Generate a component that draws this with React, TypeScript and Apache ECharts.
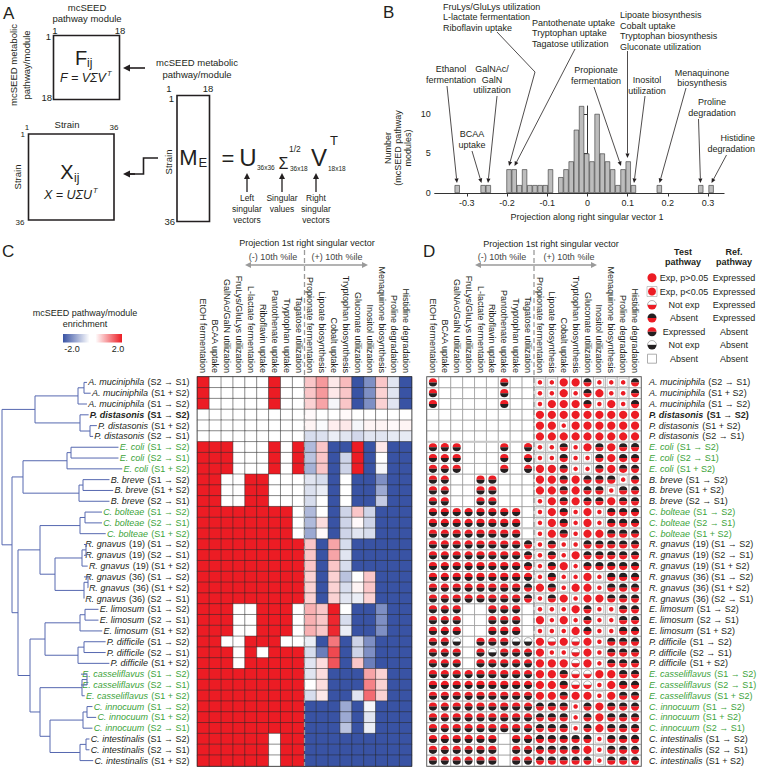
import React, { useEffect, useRef } from "react";
import * as echarts from "echarts";

const FONT = '"Liberation Sans", Arial, Helvetica, sans-serif';
const RED = "#ec1c24";
const BLACK = "#231f20";
const BLUE = "#3953a4";
const GREEN = "#3ca33a";
const TXT = "#231f20";
const GREY = "#9a9a9a";

// ---------- Panel B: histogram ----------
const histBinCenters = [
  -0.324, -0.2595, -0.2466, -0.1951, -0.1822, -0.1693, -0.1564, -0.1435, -0.1306, -0.1177, -0.1048, -0.0919,
  -0.0662, -0.0533, -0.0404, -0.0275, -0.0146, -0.0017, 0.0112, 0.0241, 0.037, 0.0499, 0.0628, 0.0757, 0.0886,
  0.1015, 0.1144, 0.1788, 0.2819, 0.3077,
];
const histCounts = [1, 1, 1, 3, 3, 1, 3, 1, 1, 1, 1, 3, 2, 3, 4, 8, 11, 5, 4, 10, 5, 4, 3, 1, 3, 4, 1, 1, 1, 1];
const histXTicks = [-0.3, -0.2, -0.1, 0, 0.1, 0.2, 0.3];
const histYTicks = [0, 5, 10];

// ---------- Panels C / D ----------
const modules = [
  "EtOH fermentation", "BCAA uptake", "GalNAc/GalN utilization", "FruLys/GluLys utilization",
  "L-lactate fermentation", "Riboflavin uptake", "Pantothenate uptake", "Tryptophan uptake",
  "Tagatose utilization", "Propionate fermentation", "Lipoate biosynthesis", "Cobalt uptake",
  "Tryptophan biosynthesis", "Gluconate utilization", "Inositol utilization", "Menaquinone biosynthesis",
  "Proline degradation", "Histidine degradation",
];

const strainSpecies = [
  "A. muciniphila", "A. muciniphila", "A. muciniphila", "P. distasonis", "P. distasonis", "P. distasonis",
  "E. coli", "E. coli", "E. coli", "B. breve", "B. breve", "B. breve",
  "C. bolteae", "C. bolteae", "C. bolteae", "R. gnavus", "R. gnavus", "R. gnavus",
  "R. gnavus", "R. gnavus", "R. gnavus", "E. limosum", "E. limosum", "E. limosum",
  "P. difficile", "P. difficile", "P. difficile", "E. casseliflavus", "E. casseliflavus", "E. casseliflavus",
  "C. innocuum", "C. innocuum", "C. innocuum", "C. intestinalis", "C. intestinalis", "C. intestinalis",
];
const strainConditions = [
  "(S2 → S1)", "(S1 + S2)", "(S1 → S2)", "(S1 → S2)", "(S1 + S2)", "(S2 → S1)",
  "(S1 → S2)", "(S2 → S1)", "(S1 + S2)", "(S1 → S2)", "(S1 + S2)", "(S2 → S1)",
  "(S1 → S2)", "(S2 → S1)", "(S1 + S2)", "(19) (S1 → S2)", "(19) (S2 → S1)", "(19) (S1 + S2)",
  "(36) (S1 → S2)", "(36) (S1 + S2)", "(36) (S2 → S1)", "(S1 → S2)", "(S2 → S1)", "(S1 + S2)",
  "(S1 → S2)", "(S2 → S1)", "(S1 + S2)", "(S1 → S2)", "(S2 → S1)", "(S1 + S2)",
  "(S1 → S2)", "(S1 + S2)", "(S2 → S1)", "(S1 → S2)", "(S2 → S1)", "(S1 + S2)",
];
const greenRows = [6, 7, 8, 12, 13, 14, 27, 28, 29, 30, 31, 32];
const boldRow = 3;

// Panel C enrichment (-2 .. 2)
const enrichment: number[][] = [
  [2, 0, 0, 0, 0, 0, 2, 0, 0, 0.5, 0.9, 0.2, 0.6, -2, -1.3, 0.5, -0.3, -2],
  [2, 0, 0, 0, 0, 0, 2, 0, 0, 0.5, 0.9, 0.2, 0.5, -2, -1.3, 0.4, -0.3, -2],
  [2, 0, 0, 0, 0, 0, 2, 0, 0, 0.4, 0.8, -0.1, 0.5, -2, -1.3, 0.4, -0.3, -2],
  [0, 0, 0, 0, 0, 0, 0, 0, 0, 0.05, 0, 0, 0.05, 0, 0, 0, 0, 0],
  [0, 0, 0, 0, 0, 0, 0, 0, 0, 0.1, -0.05, 0.15, 0.2, -0.1, 0.1, 0.1, 0.05, 0.1],
  [0, 0, 0, 0, 0, 0, 0, 0, 0, -0.4, -0.35, -0.2, -0.3, -0.45, -0.3, -0.3, -0.25, -0.25],
  [2, 2, 2, 0, 0, 0, 2, 0, 2, -0.8, 0.5, -2, -2, 2, -2, 0.2, -2, -2],
  [2, 2, 2, 0, 0, 0, 2, 0, 2, -0.7, 0.5, -2, -0.5, 2, -2, 0, -2, -2],
  [2, 2, 2, 0, 0, 0, 2, 0, 2, -0.9, 0.5, -2, -0.5, 2, -2, -0.1, -2, -2],
  [2, 2, 0, 0, 2, 2, 0, 0, 0, -0.3, -0.4, -2, 0, -2, -2, -1.3, -2, -2],
  [2, 2, 0, 0, 2, 2, 0, 0, 0, -0.35, -0.2, -2, 0, -2, -2, -1.0, -2, -2],
  [2, 2, 0, 0, 2, 2, 0, 0, 0, -0.4, 0, -2, 0, -2, -2, -0.6, -2, -2],
  [2, 2, 2, 2, 2, 2, 2, 2, 0, -0.8, 0, -2, -0.5, 0.5, -0.5, -2, -2, -2],
  [2, 2, 2, 2, 2, 2, 2, 2, 0, -0.8, 0.3, -2, -0.5, 0.05, -0.5, -2, -2, -2],
  [2, 2, 2, 2, 2, 2, 2, 2, 0, -1.0, 0.05, -2, -0.5, -0.3, -0.4, -2, -2, -2],
  [2, 2, 2, 2, 2, 2, 2, 2, 2, 0.5, -2, 0.8, -0.4, -2, -2, -2, -2, -2],
  [2, 2, 2, 2, 2, 2, 2, 2, 2, 0.5, -2, 0.8, -0.3, -2, -2, -2, -2, -2],
  [2, 2, 2, 2, 2, 2, 2, 2, 2, 0.5, -2, 0.5, -0.4, -2, -2, -2, -2, -2],
  [2, 2, 2, 2, 2, 2, 2, 2, 2, 0.4, -2, 0.4, -0.7, 0, 0.5, -2, -2, -2],
  [2, 2, 2, 2, 2, 2, 2, 2, 2, 0.4, -2, 0.4, -0.4, 0.1, 0.5, -2, -2, -2],
  [2, 2, 2, 2, 2, 2, 2, 2, 2, 0.4, -2, 0.4, -0.3, -0.2, 0.4, -2, -2, -2],
  [2, 2, 2, 0, 0, 2, 2, 2, 0, 0.7, 0.5, 2, 0, -2, -2, -1.3, -2, -2],
  [2, 2, 2, 0, 0, 2, 2, 2, 0, 0.7, 0.5, 1.9, -0.4, -2, -2, -1.3, -2, -2],
  [2, 2, 2, 0, 0, 2, 2, 2, 0, 0.7, 0.5, 1.9, -0.2, -2, -2, -1.3, -2, -2],
  [2, 2, 0, 0, 2, 2, 2, 0, 0, -0.2, -2, 1.2, -2, -0.5, -1.3, -2, -2, -2],
  [2, 2, 2, 0, 2, 0, 2, 2, 2, -0.4, -1.5, 1.6, -2, -0.5, -1.3, -2, -2, -2],
  [2, 2, 2, 0, 2, 2, 2, 2, 2, -0.3, 0.3, 1.5, -2, 0.5, -1.5, -2, -2, -2],
  [2, 2, 2, 2, 2, 2, 2, 2, 2, -0.3, 0.3, -2, -2, -2, 0.8, 0.4, -2, -2],
  [2, 2, 2, 2, 2, 2, 2, 2, 2, 0, 0.3, -2, -2, -2, 1.1, 0.4, -2, -2],
  [2, 2, 2, 2, 2, 2, 2, 2, 2, -0.4, 0.2, -2, -2, -0.3, 1.3, 0.4, -2, -2],
  [2, 2, 2, 2, 2, 2, 2, 2, 2, -2, -2, -2, -1.0, -2, -0.1, -2, -2, -2],
  [2, 2, 2, 2, 2, 2, 2, 2, 2, -2, -2, -2, -1.0, -2, -0.3, -2, -2, -2],
  [2, 2, 2, 2, 2, 2, 2, 2, 2, -2, -2, -2, -0.7, -2, -0.2, -2, -2, -2],
  [2, 2, 2, 2, 2, 2, 0, 2, 2, -2, -2, -2, -2, -2, -2, -2, -2, -2],
  [2, 2, 2, 2, 2, 2, 0, 2, 2, -2, -2, -2, -2, -2, -2, -2, -2, -2],
  [2, 2, 2, 2, 2, 2, 0, 2, 2, -2, -2, -2, -2, -2, -2, -2, -2, -2],
];

// Panel D: test/ref pathway status codes
// R = Exp p>0.05 ; r = Exp p<0.05 ; wr = Not exp/Expressed ; kr = Absent/Expressed
// rk = Expressed/Absent ; wk = Not exp/Absent ; . = Absent/Absent
const pathwayCodes = [
  "rk . . . . . rk . . r r R R kr r r r kr",
  "rk . . . . . rk . . r r R r kr R r r kr",
  "rk . . . . . rk . . r R R R kr r R r kr",
  ". . . . . . . . . R R R R R R R R R",
  ". . . . . . . . . R R r R R R R R R",
  ". . . . . . . . . R R R R R R R R R",
  "rk rk rk . . . rk . rk r r kr r R kr R kr kr",
  "rk rk rk . . . rk . rk r r kr r r kr R kr kr",
  "rk rk rk . . . rk . rk R R kr r r kr R kr kr",
  "rk rk . . rk rk . . . R R kr R kr kr kr r kr",
  "rk rk . . rk rk . . . R R kr R kr kr r kr kr",
  "rk rk . . rk rk . . . r R kr R kr kr R kr kr",
  "rk rk rk rk rk rk rk rk . r R kr r R r kr kr kr",
  "rk rk rk rk rk rk rk rk . r R kr r R r kr kr kr",
  "rk rk rk rk rk rk rk rk . r R kr r R R kr kr kr",
  "rk rk rk rk rk rk rk rk kr r kr r r kr kr kr kr kr",
  "rk rk rk rk rk rk rk rk kr r kr r R kr kr kr kr kr",
  "rk rk rk rk rk rk rk rk kr r kr R r kr kr kr kr kr",
  "rk rk rk rk rk rk rk rk rk r kr r r R r kr kr kr",
  "rk rk rk rk rk rk rk rk kr R kr r R R r kr kr kr",
  "rk rk rk rk rk rk rk rk kr r kr R r R R kr kr kr",
  "rk rk rk . . rk rk rk . r r r R kr r r kr kr",
  "rk rk rk . . rk rk rk . R r R r kr r r kr kr",
  "rk rk rk . . rk rk rk . r r r R kr r r kr kr",
  "rk rk wk . rk rk rk wk wk R wr R wr R r kr kr kr",
  "rk rk rk . rk wk rk rk rk R r r wr R r kr kr kr",
  "rk rk rk . rk rk rk rk rk R R R wr R r kr kr kr",
  "rk rk rk rk rk rk rk rk rk R R kr wr wr R R kr kr",
  "rk rk rk rk rk rk rk rk rk R R kr wr wr r R kr kr",
  "rk rk rk rk rk rk rk rk rk R R kr R R r R kr kr",
  "rk rk rk rk rk rk rk rk rk kr kr kr r kr R kr kr kr",
  "rk rk rk rk rk rk rk rk rk kr kr kr r kr R kr kr kr",
  "rk rk rk rk rk rk rk rk rk kr kr kr r kr R kr kr kr",
  "rk rk rk rk rk rk . rk rk kr kr kr kr kr r kr kr kr",
  "rk rk rk rk rk rk . rk rk kr kr kr kr R r kr kr kr",
  "rk rk rk rk rk rk . rk rk kr kr kr kr kr r kr kr kr",
];
const codeList = [".", "R", "r", "wr", "kr", "rk", "wk"];
const legendRows = [
  ["R", "Exp, p>0.05", "Expressed"],
  ["r", "Exp, p<0.05", "Expressed"],
  ["wr", "Not exp", "Expressed"],
  ["kr", "Absent", "Expressed"],
  ["rk", "Expressed", "Absent"],
  ["wk", "Not exp", "Absent"],
  [".", "Absent", "Absent"],
];

// Dendrogram: [join x (px from left), child, child]; leaves = row index
type TreeNode = number | [number, TreeNode, TreeNode];
const clAkk: TreeNode = [78, [84, 0, 1], 2];
const clPdi: TreeNode = [80, 3, [90, 4, 5]];
const clEco: TreeNode = [67, [71, 6, 7], 8];
const clBbr: TreeNode = [79, [83, 9, 10], 11];
const clCbo: TreeNode = [80, [85, 12, 13], 14];
const clRg19: TreeNode = [82, [86, 15, 16], 17];
const clRg36: TreeNode = [84, [88, 18, 19], 20];
const clEli: TreeNode = [80, [85, 21, 22], 23];
const clPdf: TreeNode = [78, [84, 24, 25], 26];
const clEca: TreeNode = [82, [87, 27, 28], 29];
const clCin: TreeNode = [83, [87, 30, 31], 32];
const clCit: TreeNode = [80, [86, 33, 34], 35];
const dendrogramTree: TreeNode = [
  2,
  [35, clAkk, clPdi],
  [12, [23, clEco, clBbr], [18, [40, clCbo, [55, clRg19, clRg36]], [30, [45, clEli, clPdf], [40, clEca, [50, clCin, clCit]]]]],
];

// ---------- layout ----------
const HEAT = { left: 197.5, top: 377, width: 214, height: 389 };
const DOTS = { left: 427, top: 377, width: 214, height: 389 };
const HIST = { left: 434.7, top: 106, width: 289.4, height: 87 };

function T(text: string, x: number, y: number, o: any = {}) {
  return {
    type: "text",
    x,
    y,
    z: 50,
    rotation: o.rot || 0,
    style: {
      text,
      fontSize: o.fs || 9,
      fontFamily: FONT,
      fill: o.fill || TXT,
      align: o.align || "center",
      verticalAlign: "middle",
      fontStyle: o.italic ? "italic" : "normal",
      fontWeight: o.bold ? "bold" : "normal",
    },
  };
}

function arrow(x1: number, y1: number, x2: number, y2: number, color = TXT, lw = 0.8, head = 4.5, wid = 0.45) {
  const a = Math.atan2(y2 - y1, x2 - x1);
  const bx = x2 - head * Math.cos(a);
  const by = y2 - head * Math.sin(a);
  const nx = -Math.sin(a) * head * wid;
  const ny = Math.cos(a) * head * wid;
  return [
    { type: "line", z: 60, shape: { x1, y1, x2: bx, y2: by }, style: { stroke: color, lineWidth: lw } },
    { type: "polygon", z: 60, shape: { points: [[x2, y2], [bx + nx, by + ny], [bx - nx, by - ny]] }, style: { fill: color } },
  ];
}

function symbolShapes(code: string, cx: number, cy: number, R = 4.2): any[] {
  const out: any[] = [];
  const half = (top: string, bottom: string) => {
    out.push({
      type: "sector",
      shape: { cx, cy, r: R, r0: 0, startAngle: Math.PI, endAngle: Math.PI * 2, clockwise: true },
      style: { fill: top === "w" ? "#ffffff" : top, stroke: top === "w" ? "#666" : "none", lineWidth: 0.5 },
    });
    out.push({
      type: "sector",
      shape: { cx, cy, r: R, r0: 0, startAngle: 0, endAngle: Math.PI, clockwise: true },
      style: { fill: bottom },
    });
  };
  if (code === "R") out.push({ type: "circle", shape: { cx, cy, r: R }, style: { fill: RED } });
  else if (code === "r") {
    out.push({ type: "rect", shape: { x: cx - R, y: cy - R, width: 2 * R, height: 2 * R }, style: { fill: "#fff", stroke: "#c2c2c2", lineWidth: 0.8 } });
    out.push({ type: "circle", shape: { cx, cy, r: R * 0.55 }, style: { fill: RED } });
  } else if (code === "rk") half(RED, BLACK);
  else if (code === "kr") half(BLACK, RED);
  else if (code === "wr") half("w", RED);
  else if (code === "wk") half("w", BLACK);
  return out;
}

function labelWidth(i: number): number {
  const ctx = document.createElement("canvas").getContext("2d")!;
  const b = i === boldRow ? "bold " : "";
  ctx.font = `italic ${b}9px ${FONT}`;
  let w = ctx.measureText(strainSpecies[i]).width;
  ctx.font = `${b}9px ${FONT}`;
  w += ctx.measureText(" " + strainConditions[i]).width;
  return w;
}

function dendroSegments(): number[][] {
  const labelRight = HEAT.left - 8;
  const leafX = strainSpecies.map((_, i) => labelRight - labelWidth(i) - 2);
  const segs: number[][] = [];
  const walk = (n: TreeNode): { x: number; y: number } => {
    if (typeof n === "number") return { x: leafX[n], y: n };
    const [jx, a, b] = n;
    const pa = walk(a);
    const pb = walk(b);
    segs.push([jx, pa.y, pa.x, pa.y]);
    segs.push([jx, pb.y, pb.x, pb.y]);
    segs.push([jx, pa.y, jx, pb.y]);
    return { x: jx, y: (pa.y + pb.y) / 2 };
  };
  walk(dendrogramTree);
  return segs;
}

const rich = {
  ni: { fontStyle: "italic", color: TXT, fontSize: 9, fontFamily: FONT },
  n: { color: TXT, fontSize: 9, fontFamily: FONT },
  gi: { fontStyle: "italic", color: GREEN, fontSize: 9, fontFamily: FONT },
  g: { color: GREEN, fontSize: 9, fontFamily: FONT },
  bi: { fontStyle: "italic", fontWeight: "bold", color: TXT, fontSize: 9, fontFamily: FONT },
  b: { fontWeight: "bold", color: TXT, fontSize: 9, fontFamily: FONT },
};
function rowLabel(_v: string, i: number) {
  const p = greenRows.includes(i) ? "g" : i === boldRow ? "b" : "n";
  return `{${p}i|${strainSpecies[i]}} {${p}|${strainConditions[i]}}`;
}

function buildGraphics(): any[] {
  const g: any[] = [];
  // Panel letters
  g.push(T("A", 3, 13, { fs: 17, align: "left" }));
  g.push(T("B", 383, 12, { fs: 17, align: "left" }));
  g.push(T("C", 2, 251, { fs: 17, align: "left" }));
  g.push(T("D", 423, 251, { fs: 17, align: "left" }));

  // ---- Panel A ----
  const lw = 1.6;
  g.push(T("mcSEED", 87, 7, { fs: 9.5 }));
  g.push(T("pathway module", 87, 18, { fs: 9.5 }));
  g.push(T("1", 55, 30, { fs: 9.5 }));
  g.push(T("18", 120, 30, { fs: 9.5 }));
  g.push(T("1", 51, 36, { fs: 9.5, align: "right" }));
  g.push(T("18", 52, 97, { fs: 9.5, align: "right" }));
  g.push({ type: "rect", shape: { x: 53.5, y: 35.5, width: 66, height: 64 }, style: { fill: "none", stroke: TXT, lineWidth: lw } });
  g.push(T("F", 81, 58, { fs: 20, align: "center" }));
  g.push(T("ij", 87, 63, { fs: 12, align: "left" }));
  g.push(T("F = VΣV", 83, 78, { fs: 12.5, italic: true }));
  g.push(T("T", 107, 73, { fs: 7.5, italic: true, align: "left" }));
  g.push(T("mcSEED metabolic", 13, 65, { fs: 9.5, rot: Math.PI / 2 }));
  g.push(T("pathway/module", 26, 65, { fs: 9.5, rot: Math.PI / 2 }));
  g.push(...arrow(145, 68, 123, 68, TXT, 1.6, 7, 0.5));
  g.push(T("mcSEED metabolic", 197, 62, { fs: 9.5 }));
  g.push(T("pathway/module", 197, 74, { fs: 9.5 }));
  // M_E
  g.push(T("1", 169, 88, { fs: 9.5 }));
  g.push(T("18", 208, 88, { fs: 9.5 }));
  g.push(T("1", 174, 98, { fs: 9.5, align: "right" }));
  g.push(T("36", 175, 221, { fs: 9.5, align: "right" }));
  g.push({ type: "rect", shape: { x: 177, y: 95.5, width: 32.5, height: 126 }, style: { fill: "none", stroke: TXT, lineWidth: lw } });
  g.push(T("M", 188.5, 157, { fs: 22 }));
  g.push(T("E", 198.5, 162, { fs: 13, align: "left" }));
  g.push(T("Strain", 168, 162, { fs: 9.5, rot: Math.PI / 2 }));
  g.push(T("=", 228, 158, { fs: 22 }));
  g.push(T("U", 248, 157, { fs: 24 }));
  g.push(T("36x36", 257, 167, { fs: 6.5, align: "left" }));
  g.push(T("Σ", 283.5, 163, { fs: 16 }));
  g.push(T("1/2", 289, 149, { fs: 8.5, align: "left" }));
  g.push(T("36x18", 290, 168, { fs: 6.5, align: "left" }));
  g.push(T("V", 319, 157, { fs: 24 }));
  g.push(T("T", 330, 140, { fs: 13, align: "left" }));
  g.push(T("18x18", 328, 168, { fs: 6.5, align: "left" }));
  [247, 282, 316].forEach((x) => g.push(...arrow(x, 192, x, 173, TXT, 1.3, 6, 0.5)));
  g.push(T("Left", 247, 198, { fs: 8.5 }));
  g.push(T("singular", 247, 209, { fs: 8.5 }));
  g.push(T("vectors", 247, 220, { fs: 8.5 }));
  g.push(T("Singular", 282, 198, { fs: 8.5 }));
  g.push(T("values", 282, 209, { fs: 8.5 }));
  g.push(T("Right", 316, 198, { fs: 8.5 }));
  g.push(T("singular", 316, 209, { fs: 8.5 }));
  g.push(T("vectors", 316, 220, { fs: 8.5 }));
  // X box
  g.push(T("1", 27, 127, { fs: 8 }));
  g.push(T("Strain", 67, 124, { fs: 9.5 }));
  g.push(T("36", 114, 127, { fs: 8 }));
  g.push(T("1", 25, 134, { fs: 8, align: "right" }));
  g.push(T("36", 20, 222, { fs: 8 }));
  g.push({ type: "rect", shape: { x: 28.5, y: 134, width: 85.5, height: 86 }, style: { fill: "none", stroke: TXT, lineWidth: lw } });
  g.push(T("Strain", 17, 177, { fs: 9.5, rot: Math.PI / 2 }));
  g.push(T("X", 67, 172, { fs: 20 }));
  g.push(T("ij", 74, 178, { fs: 12, align: "left" }));
  g.push(T("X = UΣU", 68, 195, { fs: 12.5, italic: true }));
  g.push(T("T", 93, 190, { fs: 7.5, italic: true, align: "left" }));
  g.push({ type: "polyline", z: 60, shape: { points: [[158, 158], [143.5, 158], [143.5, 174], [130, 174]] }, style: { stroke: TXT, lineWidth: 1.6, fill: "none" } });
  g.push(...arrow(135, 174, 123, 174, TXT, 1.6, 7, 0.5));

  // ---- Panel B annotations ----
  const blockL = (lines: string[], x: number, y0: number) =>
    lines.forEach((s, k) => g.push(T(s, x, y0 + k * 10.5, { align: "left" })));
  const blockC = (lines: string[], x: number, y0: number) =>
    lines.forEach((s, k) => g.push(T(s, x, y0 + k * 10.5)));
  blockL(["FruLys/GluLys utilization", "L-lactate fermentation", "Riboflavin uptake"], 443, 6.5);
  blockL(["Pantothenate uptake", "Tryptophan uptake", "Tagatose utilization"], 532, 22.7);
  blockL(["Lipoate biosynthesis", "Cobalt uptake", "Tryptophan biosynthesis", "Gluconate utilization"], 620, 15);
  blockC(["Ethanol", "fermentation"], 451, 69);
  blockC(["GalNAc/", "GalN", "utilization"], 492, 69);
  blockC(["Propionate", "fermentation"], 596, 70);
  blockC(["Inositol", "utilization"], 647, 80);
  blockC(["Menaquinone", "biosynthesis"], 702, 72.5);
  blockC(["Proline", "degradation"], 712, 102);
  ["Histidine", "degradation"].forEach((s, k) => g.push(T(s, 755, 138 + k * 10.5, { align: "right" })));
  blockC(["BCAA", "uptake"], 472, 134);
  const ac = "#231f20";
  g.push(...arrow(447, 86, 457, 183, ac));
  g.push(...arrow(472, 151, 481.5, 183, ac));
  g.push(...arrow(497, 96, 488, 183, ac));
  g.push({ type: "line", z: 60, shape: { x1: 497, y1: 32, x2: 535, y2: 72 }, style: { stroke: ac, lineWidth: 0.8 } });
  g.push(...arrow(535, 72, 509, 166, ac));
  g.push(...arrow(575, 49, 514.5, 166, ac));
  g.push(...arrow(594, 87, 621, 166, ac));
  g.push(...arrow(627.5, 51, 627.5, 158, ac));
  g.push(...arrow(645, 96, 634, 183, ac));
  g.push(...arrow(686, 88, 659.5, 183, ac));
  g.push(...arrow(698.5, 119, 700.5, 183, ac));
  g.push(...arrow(726.5, 155, 711.5, 183, ac));
  g.push(T("Number", 388, 148, { rot: Math.PI / 2 }));
  g.push(T("(mcSEED pathway", 398, 148, { rot: Math.PI / 2 }));
  g.push(T("modules)", 408, 148, { rot: Math.PI / 2 }));
  g.push(T("Projection along right singular vector 1", 587, 217));

  // ---- Panel C / D headers ----
  const header = (grid: any, titleX: number, titleY: number, negX: number, posX: number, lt: number, rt: number) => {
    const mid = grid.left + grid.width / 2;
    g.push(T("Projection 1st right singular vector", titleX, titleY));
    g.push(T("(-) 10th %ile", negX, 256.5, { fill: "#444" }));
    g.push(T("(+) 10th %ile", posX, 256.5, { fill: "#444" }));
    g.push(...arrow(mid, 265, lt, 265, GREY, 1.3, 6, 0.5));
    g.push(...arrow(mid, 265, rt, 265, GREY, 1.3, 6, 0.5));
    g.push({
      type: "line",
      z: 100,
      shape: { x1: mid, y1: 250, x2: mid, y2: grid.top + grid.height },
      style: { stroke: GREY, lineWidth: 1.3, lineDash: [5, 3] },
    });
  };
  header(HEAT, 307, 242.5, 273, 337, 245, 368);
  header(DOTS, 551, 244, 502, 569, 475, 597);

  // colour bar (panel C)
  g.push(T("mcSEED pathway/module", 85, 313));
  g.push(T("enrichment", 85, 324));
  g.push({
    type: "rect",
    shape: { x: 63, y: 334, width: 59, height: 8.5 },
    style: {
      fill: new echarts.graphic.LinearGradient(0, 0, 1, 0, [
        { offset: 0, color: BLUE },
        { offset: 0.45, color: "#ffffff" },
        { offset: 0.55, color: "#ffffff" },
        { offset: 1, color: RED },
      ]),
    },
  });
  g.push(T("-2.0", 72, 349));
  g.push(T("2.0", 118, 349));

  // light separators in panel D
  const rh = DOTS.height / 36;
  [6, 14].forEach((k) =>
    g.push({
      type: "line",
      z: 90,
      shape: { x1: DOTS.left, y1: DOTS.top + k * rh, x2: DOTS.left + DOTS.width, y2: DOTS.top + k * rh },
      style: { stroke: "#c8c8c8", lineWidth: 2 },
    })
  );

  // legend (panel D)
  g.push(T("Test", 683, 251.5, { bold: true }));
  g.push(T("pathway", 683, 262, { bold: true }));
  g.push(T("Ref.", 734, 251.5, { bold: true }));
  g.push(T("pathway", 734, 262, { bold: true }));
  const ly = [277.7, 291.5, 305, 318, 331.7, 345, 358.7];
  legendRows.forEach((row, k) => {
    const [code, t1, t2] = row;
    if (code === ".") {
      g.push({ type: "rect", shape: { x: 647.5, y: ly[k] - 4.5, width: 9, height: 9 }, style: { fill: "#fff", stroke: "#999", lineWidth: 0.8 } });
    } else if (code === "r") {
      g.push({ type: "rect", shape: { x: 647, y: ly[k] - 5, width: 10, height: 10 }, style: { fill: "#fff", stroke: "#bbb", lineWidth: 0.8 } });
      g.push({ type: "circle", shape: { cx: 652, cy: ly[k], r: 4 }, style: { fill: RED } });
    } else {
      symbolShapes(code, 652, ly[k], 4.5).forEach((s) => g.push({ ...s, z: 60 }));
    }
    g.push(T(t1, 684, ly[k]));
    g.push(T(t2, 734, ly[k]));
  });
  return g;
}

function buildOption(): any {
  const heatData: number[][] = [];
  enrichment.forEach((row, r) => row.forEach((v, c) => heatData.push([c, r, v])));
  const dotData: number[][] = [];
  pathwayCodes.forEach((line, r) =>
    line.split(" ").forEach((code, c) => dotData.push([c, r, codeList.indexOf(code)]))
  );
  const strainLabels = strainSpecies.map((s, i) => `${s} ${strainConditions[i]}`);
  const colLabel = { rotate: 90, interval: 0, fontSize: 9, fontFamily: FONT, color: TXT, margin: 4 };
  const rowAxisLabel = { margin: 8, interval: 0, formatter: rowLabel, rich };

  return {
    animation: false,
    backgroundColor: "#ffffff",
    textStyle: { fontFamily: FONT },
    grid: [
      { ...HIST, outerBoundsMode: "none" },
      { left: 0, top: HEAT.top, width: 190, height: HEAT.height, outerBoundsMode: "none" },
      { ...HEAT, show: true, borderColor: "#222", borderWidth: 1.4, backgroundColor: "#fff", outerBoundsMode: "none" },
      { ...DOTS, show: true, borderColor: "#444", borderWidth: 1.4, backgroundColor: "#fff", outerBoundsMode: "none" },
    ],
    xAxis: [
      {
        type: "value",
        gridIndex: 0,
        min: -0.38,
        max: 0.34,
        axisLine: { show: true, lineStyle: { color: "#333", width: 1 } },
        axisTick: { show: true, length: 3.5, lineStyle: { color: "#333" }, customValues: histXTicks },
        axisLabel: { fontSize: 9, fontFamily: FONT, color: TXT, margin: 5, customValues: histXTicks },
        splitLine: { show: false },
      },
      { type: "value", gridIndex: 1, min: 0, max: 190, show: false },
      {
        type: "category",
        gridIndex: 2,
        data: modules,
        position: "top",
        axisLine: { show: false },
        axisTick: { show: false },
        axisLabel: colLabel,
      },
      {
        type: "category",
        gridIndex: 3,
        data: modules,
        position: "top",
        axisLine: { show: false },
        axisTick: { show: false },
        axisLabel: colLabel,
      },
    ],
    yAxis: [
      {
        type: "value",
        gridIndex: 0,
        min: 0,
        max: 11,
        axisLine: { show: true, lineStyle: { color: "#333", width: 1 } },
        axisTick: { show: true, length: 3.5, lineStyle: { color: "#333" }, customValues: histYTicks },
        axisLabel: { fontSize: 9, fontFamily: FONT, color: TXT, margin: 4, customValues: histYTicks },
        splitLine: { show: false },
      },
      { type: "value", gridIndex: 1, min: -0.5, max: 35.5, inverse: true, show: false },
      {
        type: "category",
        gridIndex: 2,
        data: strainLabels,
        inverse: true,
        axisLine: { show: false },
        axisTick: { show: false },
        axisLabel: rowAxisLabel,
      },
      {
        type: "category",
        gridIndex: 3,
        data: strainLabels,
        inverse: true,
        position: "right",
        axisLine: { show: false },
        axisTick: { show: false },
        axisLabel: rowAxisLabel,
      },
    ],
    visualMap: {
      type: "continuous",
      show: false,
      min: -2,
      max: 2,
      dimension: 2,
      seriesIndex: 2,
      inRange: { color: [BLUE, "#ffffff", RED] },
    },
    series: [
      {
        type: "bar",
        xAxisIndex: 0,
        yAxisIndex: 0,
        barWidth: 5.2,
        data: histBinCenters.map((c, i) => [c, histCounts[i]]),
        itemStyle: { color: "#bdbdbd", borderColor: "#333", borderWidth: 0.6 },
        emphasis: { disabled: true },
      },
      {
        type: "custom",
        xAxisIndex: 1,
        yAxisIndex: 1,
        data: dendroSegments(),
        encode: { x: [0, 2], y: [1, 3] },
        silent: true,
        renderItem: (_p: any, api: any) => {
          const a = api.coord([api.value(0), api.value(1)]);
          const b = api.coord([api.value(2), api.value(3)]);
          return {
            type: "line",
            shape: { x1: a[0], y1: a[1], x2: b[0], y2: b[1] },
            style: { stroke: "#5668b0", lineWidth: 1 },
          };
        },
      },
      {
        type: "heatmap",
        xAxisIndex: 2,
        yAxisIndex: 2,
        data: heatData,
        itemStyle: { borderColor: "#2b2b2b", borderWidth: 0.5 },
        emphasis: { disabled: true },
      },
      {
        type: "custom",
        xAxisIndex: 3,
        yAxisIndex: 3,
        data: dotData,
        encode: { x: 0, y: 1 },
        silent: true,
        renderItem: (_p: any, api: any) => {
          const c = api.value(0);
          const r = api.value(1);
          const k = api.value(2);
          const p = api.coord([c, r]);
          const s = api.size([1, 1]);
          const children: any[] = [
            {
              type: "rect",
              shape: { x: p[0] - s[0] / 2, y: p[1] - s[1] / 2, width: s[0], height: s[1] },
              style: { fill: "#fff", stroke: "#8c8c8c", lineWidth: 0.6 },
            },
            ...symbolShapes(codeList[k], p[0], p[1], 4.1),
          ];
          return { type: "group", children };
        },
      },
    ],
    graphic: buildGraphics(),
  };
}

export default function App() {
  const ref = useRef<HTMLDivElement>(null);
  useEffect(() => {
    document.body.style.margin = "0";
    const chart = echarts.init(ref.current!, null, { renderer: "svg" });
    chart.setOption(buildOption());
    return () => chart.dispose();
  }, []);
  return (
    <div
      ref={ref}
      style={{ position: "absolute", left: 0, top: 0, width: 757, height: 769, background: "#fff" }}
    />
  );
}
